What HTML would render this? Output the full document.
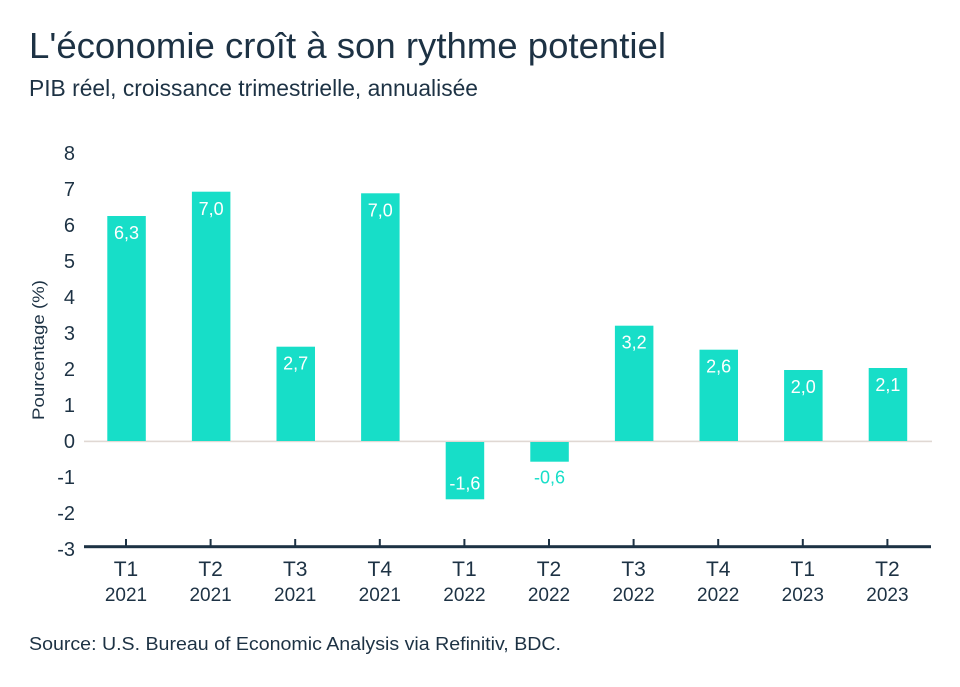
<!DOCTYPE html>
<html><head><meta charset="utf-8"><style>
html,body{margin:0;padding:0;background:#fff;}
svg{display:block;}
text{font-family:"Liberation Sans",sans-serif;}
</style></head><body>
<svg width="960" height="687" viewBox="0 0 960 687" xmlns="http://www.w3.org/2000/svg">
<rect width="960" height="687" fill="#fff"/>
<text x="29" y="58" font-size="36" fill="#1d3244" textLength="637" lengthAdjust="spacingAndGlyphs">L'économie croît à son rythme potentiel</text>
<text x="29" y="96" font-size="23" fill="#1d3244" textLength="449" lengthAdjust="spacingAndGlyphs">PIB réel, croissance trimestrielle, annualisée</text>

<!-- y tick labels -->
<g font-size="20" fill="#1d3244" text-anchor="end">
<text x="75" y="160">8</text>
<text x="75" y="196">7</text>
<text x="75" y="232">6</text>
<text x="75" y="268">5</text>
<text x="75" y="304">4</text>
<text x="75" y="340">3</text>
<text x="75" y="376">2</text>
<text x="75" y="412">1</text>
<text x="75" y="448">0</text>
<text x="75" y="484">-1</text>
<text x="75" y="520">-2</text>
<text x="75" y="556">-3</text>
</g>
<text transform="translate(44,350) rotate(-90)" font-size="17" fill="#1d3244" text-anchor="middle" textLength="140" lengthAdjust="spacingAndGlyphs">Pourcentage (%)</text>

<!-- zero line -->
<rect x="84" y="440.6" width="848" height="1.6" fill="#e0d8d3"/>

<!-- bars -->
<g fill="#17dec8">
<rect x="107.3" y="216" width="38.5" height="225"/>
<rect x="191.9" y="191.7" width="38.5" height="249.3"/>
<rect x="276.5" y="346.7" width="38.5" height="94.3"/>
<rect x="361.1" y="193.3" width="38.5" height="247.7"/>
<rect x="445.7" y="442" width="38.5" height="57.3"/>
<rect x="530.3" y="442" width="38.5" height="19.7"/>
<rect x="614.9" y="325.7" width="38.5" height="115.3"/>
<rect x="699.5" y="349.7" width="38.5" height="91.3"/>
<rect x="784.1" y="370" width="38.5" height="71"/>
<rect x="868.7" y="368" width="38.5" height="73"/>
</g>

<!-- value labels -->
<g font-size="18" fill="#fff" text-anchor="middle">
<text x="126.5" y="239">6,3</text>
<text x="211.1" y="215">7,0</text>
<text x="295.7" y="369.5">2,7</text>
<text x="380.3" y="216.5">7,0</text>
<text x="464.9" y="489.5">-1,6</text>
<text x="634.1" y="348.5">3,2</text>
<text x="718.7" y="372.5">2,6</text>
<text x="803.3" y="393">2,0</text>
<text x="887.9" y="391">2,1</text>
</g>
<text x="549.5" y="483.5" font-size="18" fill="#17dec8" text-anchor="middle">-0,6</text>

<!-- x axis -->
<rect x="84" y="545.2" width="847" height="3" fill="#1d3244"/>
<g fill="#1d3244">
<rect x="125" y="539" width="2" height="7"/>
<rect x="209.6" y="539" width="2" height="7"/>
<rect x="294.2" y="539" width="2" height="7"/>
<rect x="378.8" y="539" width="2" height="7"/>
<rect x="463.4" y="539" width="2" height="7"/>
<rect x="548" y="539" width="2" height="7"/>
<rect x="632.6" y="539" width="2" height="7"/>
<rect x="717.2" y="539" width="2" height="7"/>
<rect x="801.8" y="539" width="2" height="7"/>
<rect x="886.4" y="539" width="2" height="7"/>
</g>
<g font-size="21" fill="#1d3244" text-anchor="middle">
<text x="126" y="576">T1</text>
<text x="210.6" y="576">T2</text>
<text x="295.2" y="576">T3</text>
<text x="379.8" y="576">T4</text>
<text x="464.4" y="576">T1</text>
<text x="549" y="576">T2</text>
<text x="633.6" y="576">T3</text>
<text x="718.2" y="576">T4</text>
<text x="802.8" y="576">T1</text>
<text x="887.4" y="576">T2</text>
</g>
<g font-size="19" fill="#1d3244" text-anchor="middle">
<text x="126" y="601">2021</text>
<text x="210.6" y="601">2021</text>
<text x="295.2" y="601">2021</text>
<text x="379.8" y="601">2021</text>
<text x="464.4" y="601">2022</text>
<text x="549" y="601">2022</text>
<text x="633.6" y="601">2022</text>
<text x="718.2" y="601">2022</text>
<text x="802.8" y="601">2023</text>
<text x="887.4" y="601">2023</text>
</g>

<text x="29" y="650" font-size="18" fill="#1d3244" textLength="532" lengthAdjust="spacingAndGlyphs">Source: U.S. Bureau of Economic Analysis via Refinitiv, BDC.</text>
</svg>
</body></html>
